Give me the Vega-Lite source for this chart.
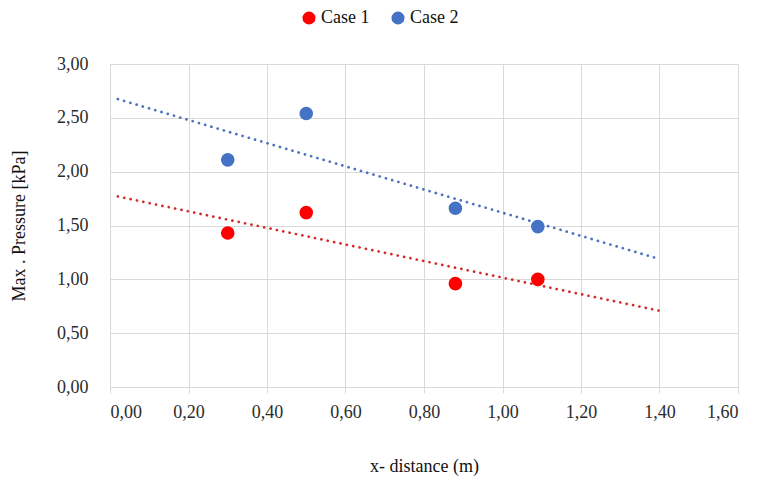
{
  "$schema": "https://vega.github.io/schema/vega-lite/v6.json",
  "background": "white",
  "autosize": "none",
  "width": 628,
  "height": 323,
  "padding": {"left": 110, "top": 64, "right": 27, "bottom": 97},
  "data": {
    "values": [
      {"series": "Case 1", "x": 0.30, "pressure": 1.43},
      {"series": "Case 1", "x": 0.50, "pressure": 1.62},
      {"series": "Case 1", "x": 0.88, "pressure": 0.96},
      {"series": "Case 1", "x": 1.09, "pressure": 1.00},
      {"series": "Case 2", "x": 0.30, "pressure": 2.11},
      {"series": "Case 2", "x": 0.50, "pressure": 2.54},
      {"series": "Case 2", "x": 0.88, "pressure": 1.66},
      {"series": "Case 2", "x": 1.09, "pressure": 1.49}
    ]
  },
  "layer": [
    {
      "transform": [
        {"regression": "pressure", "on": "x", "groupby": ["series"], "extent": [0.02, 1.4]}
      ],
      "mark": {"type": "line", "strokeWidth": 2.7, "strokeCap": "round", "strokeDash": [0.1, 6.4]},
      "encoding": {
        "x": {"field": "x", "type": "quantitative"},
        "y": {"field": "pressure", "type": "quantitative"},
        "detail": {"field": "series"},
        "color": {
          "field": "series",
          "type": "nominal",
          "scale": {"domain": ["Case 1", "Case 2"], "range": ["#d42a2a", "#4a72c0"]},
          "legend": null
        }
      }
    },
    {
      "mark": {"type": "point", "filled": true, "shape": "circle", "size": 185, "opacity": 1},
      "encoding": {
        "x": {
          "field": "x",
          "type": "quantitative",
          "title": "x- distance (m)",
          "scale": {"domain": [0, 1.6], "nice": false, "zero": false},
          "axis": {
            "values": [0, 0.2, 0.4, 0.6, 0.8, 1.0, 1.2, 1.4, 1.6],
            "labelExpr": "replace(format(datum.value, '.2f'), '.', ',')",
            "labelFont": "Liberation Serif",
            "tickSize": 6,
            "labelPadding": 10,
            "titlePadding": 36
          }
        },
        "y": {
          "field": "pressure",
          "type": "quantitative",
          "title": "Max . Pressure [kPa]",
          "scale": {"domain": [0, 3], "nice": false},
          "axis": {
            "values": [0, 0.5, 1.0, 1.5, 2.0, 2.5, 3.0],
            "labelExpr": "replace(format(datum.value, '.2f'), '.', ',')",
            "labelFont": "Liberation Serif",
            "ticks": false,
            "labelPadding": 22,
            "titlePadding": 28
          }
        },
        "color": {
          "field": "series",
          "type": "nominal",
          "scale": {"domain": ["Case 1", "Case 2"], "range": ["#ff0000", "#4472c4"]},
          "legend": {
            "title": null,
            "orient": "none",
            "direction": "horizontal",
            "legendX": 190,
            "legendY": -55,
            "symbolType": "circle",
            "symbolSize": 170,
            "symbolOpacity": 1,
            "labelOffset": 3,
            "columnPadding": 19
          }
        }
      }
    }
  ],
  "resolve": {"scale": {"color": "independent"}, "legend": {"color": "independent"}},
  "config": {
    "view": {"stroke": null},
    "font": "Liberation Serif",
    "axis": {
      "gridColor": "#d9d9d9",
      "gridWidth": 1,
      "domainColor": "#d9d9d9",
      "domainWidth": 1,
      "tickColor": "#d9d9d9",
      "labelFont": "Liberation Serif",
      "labelFontSize": 18,
      "labelColor": "#2b2b2b",
      "titleFont": "Liberation Serif",
      "titleFontSize": 18,
      "titleFontWeight": "normal",
      "titleColor": "#111111"
    },
    "legend": {
      "labelFont": "Liberation Serif",
      "labelFontSize": 18,
      "labelColor": "#111111"
    }
  }
}
